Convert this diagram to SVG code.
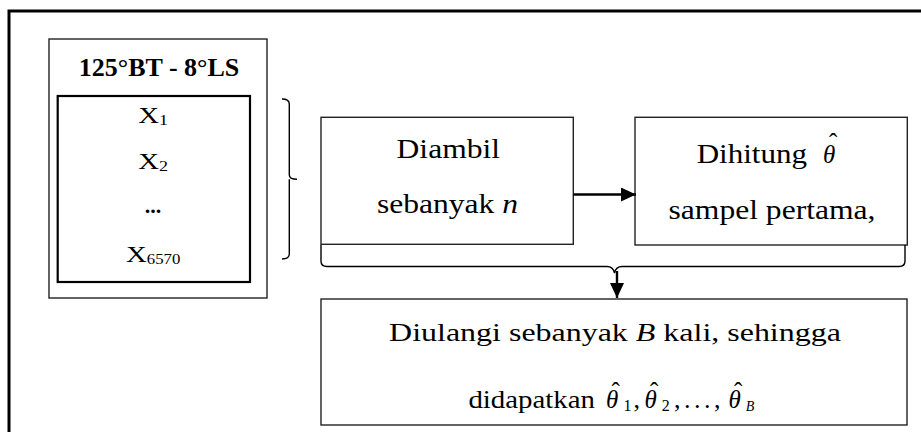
<svg xmlns="http://www.w3.org/2000/svg" width="921" height="432" viewBox="0 0 921 432">
<style>
text{font-family:"Liberation Serif","Times New Roman",serif;fill:#000}
.box{fill:#fff;stroke:#222;stroke-width:1.4}
.inner{fill:none;stroke:#000;stroke-width:2.2}
.t27{font-size:27px}
.t26{font-size:26px}
.xl{font-size:24px}
.sub{font-size:15px}
.it{font-style:italic}
.th{font-style:italic;font-size:25px}
.hat{font-size:25px;font-style:normal}
.conn{fill:none;stroke:#000;stroke-width:1.4}
.arr{fill:none;stroke:#000;stroke-width:2.4}
</style>
<defs>
<marker id="ah" viewBox="0 0 15 14" refX="15" refY="7" markerWidth="15" markerHeight="14" markerUnits="userSpaceOnUse" orient="auto">
<path d="M0,0 L15,7 L0,14 Z" fill="#000"/>
</marker>
</defs>
<rect x="9" y="11" width="940" height="450" fill="#fff" stroke="#000" stroke-width="3"/>

<g id="node-data">
<rect class="box" x="49" y="39" width="218" height="259"/>
<text x="159" y="76" text-anchor="middle" font-size="26" font-weight="bold">125°BT - 8°LS</text>
<rect class="inner" x="57.7" y="96" width="192.3" height="186"/>
<text class="xl" transform="translate(138.3,122.7) scale(1.2,1)">X<tspan class="sub" dy="2">1</tspan></text>
<text class="xl" transform="translate(138.3,169.3) scale(1.2,1)">X<tspan class="sub" dy="2">2</tspan></text>
<text x="153" y="212.5" text-anchor="middle" font-size="22" font-weight="bold">...</text>
<text class="xl" transform="translate(126,261.7) scale(1.2,1)">X<tspan font-size="14" dy="2">6570</tspan></text>
</g>

<g id="node-ambil">
<rect class="box" x="321" y="117.3" width="252.3" height="127"/>
<text class="t27" text-anchor="middle" transform="translate(448.3,158.3) scale(1.17,1)">Diambil</text>
<text class="t27" text-anchor="middle" transform="translate(447.5,212.5) scale(1.17,1)">sebanyak <tspan class="it">n</tspan></text>
</g>

<g id="node-hitung">
<rect class="box" x="635" y="117.3" width="272.3" height="127.7"/>
<text class="t27" transform="translate(696.7,162.7) scale(1.15,1)">Dihitung</text>
<text><tspan class="th" x="823" y="163.3">θ</tspan><tspan class="hat" x="829" dy="-12">ˆ</tspan></text>
<text class="t27" text-anchor="middle" transform="translate(772,218.5) scale(1.17,1)">sampel pertama,</text>
</g>

<g id="node-ulang">
<rect class="box" x="321" y="299" width="586" height="126"/>
<text class="t26" text-anchor="middle" transform="translate(615,341) scale(1.23,1)">Diulangi sebanyak <tspan class="it">B</tspan> kali, sehingga</text>
<text class="t26" transform="translate(468.4,408.3) scale(1.11,1)">didapatkan</text>
<text y="408.3"><tspan class="th" x="606">θ</tspan><tspan class="hat" x="611.5" dy="-8">ˆ</tspan><tspan font-size="16" x="623.4" dy="11">1</tspan><tspan font-size="26" x="633.5" dy="-3">,</tspan><tspan class="th" x="644.4">θ</tspan><tspan class="hat" x="650" dy="-8">ˆ</tspan><tspan font-size="16" x="661.7" dy="11">2</tspan><tspan font-size="26" x="674" dy="-3" letter-spacing="3.5">,...,</tspan><tspan class="th" x="728.6">θ</tspan><tspan class="hat" x="734" dy="-8">ˆ</tspan><tspan class="it" font-size="14" x="745.8" dy="11">B</tspan></text>
</g>

<g id="connectors">
<path class="conn" d="M282,99 Q289.3,99 289.3,104 L289.3,175 Q289.3,179.3 297,179.3 M289.3,179.3 Q289.3,183.6 289.3,187 L289.3,254 Q289.3,259 282,259"/>
<path class="conn" d="M321,245 L321,261 Q321,266.5 327,266.5 L607,266.5 Q613,266.5 614.5,273 Q616,266.5 622,266.5 L899,266.5 Q905,266.5 905,261 L905,245"/>
<line class="arr" x1="573.3" y1="194.5" x2="636" y2="194.5" marker-end="url(#ah)"/>
<line class="arr" x1="617" y1="271" x2="617" y2="298" marker-end="url(#ah)"/>
</g>
</svg>
